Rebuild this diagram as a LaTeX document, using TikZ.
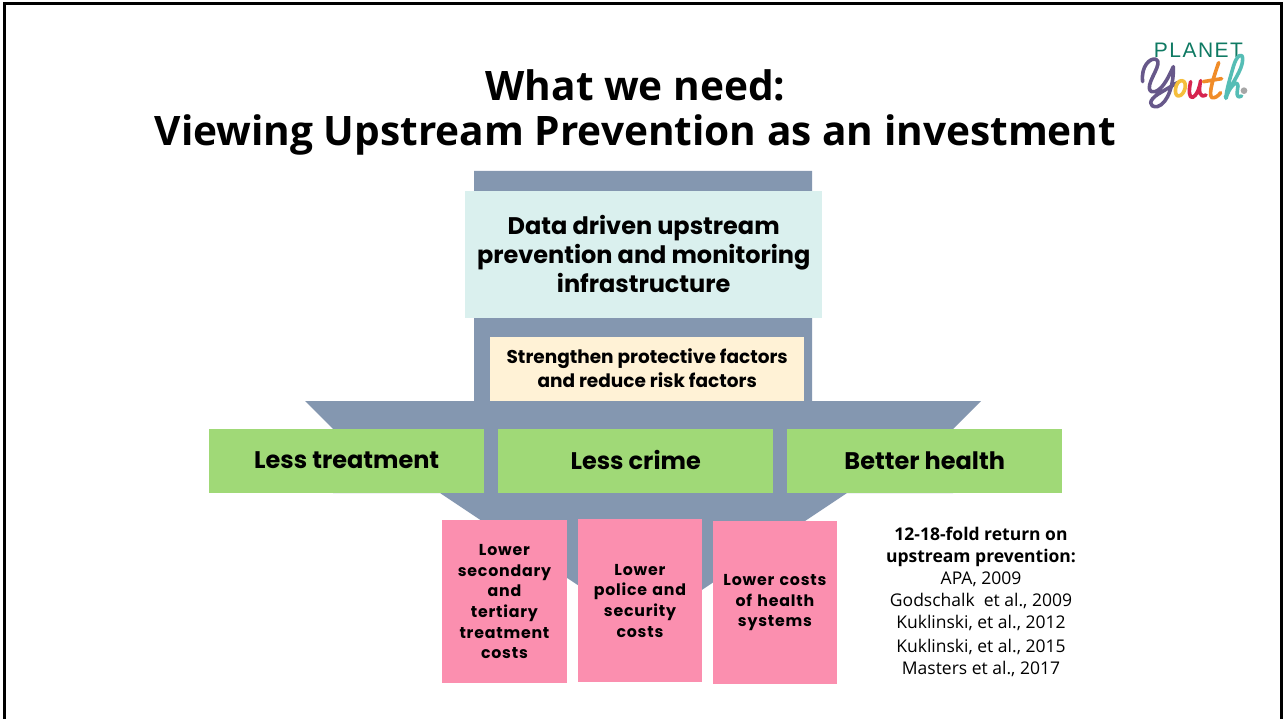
\documentclass[tikz,border=0pt]{standalone}
\usepackage{fontspec}
\setmainfont{Open Sans}
\newfontfamily\popb{Poppins}
\newfontfamily\popsp{Poppins}[LetterSpace=5]
\newfontfamily\logof{Liberation Sans}[LetterSpace=7]
\definecolor{funnel}{HTML}{8497B0}
\definecolor{mint}{HTML}{DAF0EE}
\definecolor{cream}{HTML}{FFF2D6}
\definecolor{lime}{HTML}{A0D977}
\definecolor{pinkb}{HTML}{FB8FAF}
\definecolor{lteal}{HTML}{0F7A63}
\definecolor{lpurple}{HTML}{67588A}
\definecolor{lyellow}{HTML}{F5BE3C}
\definecolor{lred}{HTML}{D6244F}
\definecolor{lorange}{HTML}{F08C28}
\definecolor{lcyan}{HTML}{55BDB5}
\tikzset{
 pinkbox/.style={fill=pinkb,minimum width=124.5pt,minimum height=163pt,inner sep=0pt,anchor=north west,align=center,text width=122pt,font=\fontsize{15.8}{20.7}\popsp\bfseries},
 greenbox/.style={fill=lime,minimum width=275pt,minimum height=64pt,inner sep=0pt,anchor=north west,align=center,font=\fontsize{24}{24}\popb\bfseries},
 logostroke/.style={line width=3.6pt,line cap=round,line join=round},
}
\begin{document}
\begin{tikzpicture}[x=1pt,y=-1pt]
\useasboundingbox (0,0) rectangle (1283,719);
\fill[white] (0,0) rectangle (1283,719);
\draw[line width=3pt,black] (4.5,719) -- (4.5,3.5) -- (1281.5,3.5) -- (1281.5,719);
% funnel
\fill[funnel] (474,171) -- (812,171) -- (812,401) -- (981,401) -- (953,429) -- (953,493) -- (847,493) -- (643.5,629) -- (440,493) -- (333,493) -- (333,429) -- (305,401) -- (474,401) -- cycle;
% title
\node[font=\fontsize{40.6}{45}\selectfont\bfseries,inner sep=0pt,align=center] (title) at (635.5,112) {What we need:\\Viewing Upstream Prevention as an investment};
% boxes
\node[fill=mint,minimum width=357pt,minimum height=127pt,inner sep=0pt,anchor=north west,align=center,font=\fontsize{24}{29}\popb\bfseries] (data) at (465,191) {\raisebox{2pt}{Data driven upstream}\\\raisebox{2pt}{prevention and monitoring}\\\raisebox{2pt}{infrastructure}};
\node[fill=cream,minimum width=314pt,minimum height=64pt,inner sep=0pt,anchor=north west,align=center,font=\fontsize{18.5}{24}\popb\bfseries] (factors) at (490,337) {\raisebox{2pt}{Strengthen protective factors}\\\raisebox{2pt}{and reduce risk factors}};
\node[greenbox] (treat) at (209,429) {\raisebox{2pt}{Less treatment}};
\node[greenbox] (crime) at (498,429) {\raisebox{2.5pt}{Less crime}};
\node[greenbox] (health) at (787,429) {\raisebox{2pt}{Better health}};
\node[pinkbox] (p1) at (442,520) {Lower\\secondary\\and\\tertiary\\treatment\\costs};
\node[pinkbox] (p2) at (577.5,519) {Lower\\police and\\security\\costs\\[41pt]};
\node[pinkbox] (p3) at (712.5,521) {Lower costs\\of health\\systems\\[33pt]};
\node[font=\fontsize{17.5}{22.1}\selectfont,inner sep=0pt,align=center,anchor=north] (refs) at (981,527) {\textbf{12-18-fold return on}\\\textbf{upstream prevention:}\\APA, 2009\\Godschalk\ \ et al., 2009\\Kuklinski, et al., 2012\\[1.5pt]Kuklinski, et al., 2015\\Masters et al., 2017};
% logo
\node[font=\fontsize{21}{21}\logof,text=lteal,inner sep=0pt,anchor=base] (planet) at (1198.5,58) {PLANET};
\begin{scope}[shift={(1120,20)},x=0.3333pt,y=-0.3333pt]
\draw[logostroke,lpurple] (68,185) .. controls (62,140) and (90,112) .. (108,118) .. controls (130,128) and (85,180) .. (88,205) .. controls (92,225) and (115,215) .. (130,195) .. controls (145,175) and (155,150) .. (160,140) .. controls (162,190) and (145,250) .. (112,260) .. controls (85,262) and (85,240) .. (115,222) .. controls (135,210) and (155,198) .. (172,188);
\draw[logostroke,lyellow] (185,182) .. controls (165,182) and (160,228) .. (175,228) .. controls (195,228) and (205,182) .. (185,182);
\draw[logostroke,lred] (212,185) .. controls (205,215) and (208,235) .. (218,232) .. controls (230,228) and (238,205) .. (242,182) .. controls (235,215) and (238,235) .. (258,225);
\draw[logostroke,lorange] (296,128) .. controls (285,160) and (262,225) .. (276,233) .. controls (285,235) and (295,228) .. (302,218) (250,185) -- (305,176);
\draw[logostroke,lcyan] (316,232) .. controls (335,190) and (368,150) .. (368,118) .. controls (368,95) and (350,105) .. (340,140) .. controls (330,175) and (318,215) .. (318,235) .. controls (325,205) and (352,175) .. (354,198) .. controls (352,215) and (345,238) .. (365,228);
\fill[gray!70] (372,212) circle (10);
\end{scope}
\end{tikzpicture}
\end{document}
